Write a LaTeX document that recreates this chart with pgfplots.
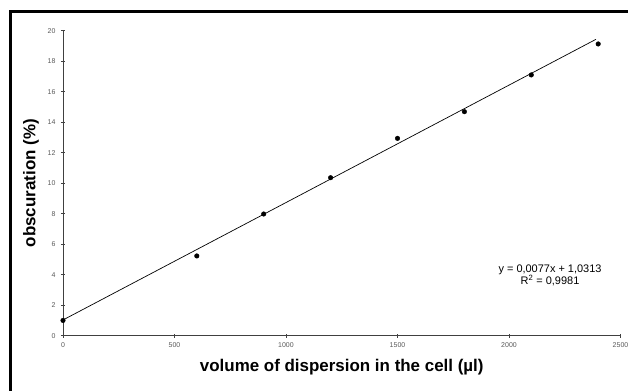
\documentclass[border=0pt]{standalone}
\usepackage{pgfplots}
\pgfplotsset{compat=1.18}
\usepackage{fontspec}
\setmainfont{Liberation Sans}
\begin{document}
\begin{tikzpicture}
\useasboundingbox (0,0) rectangle (628bp,391bp);
\fill[white] (0,0) rectangle (628bp,391bp);
\draw[line width=2.6bp] (10.7bp,-2bp) -- (10.7bp,379.3bp) -- (630bp,379.3bp);
\begin{axis}[
  at={(63bp,55.3bp)}, anchor=south west,
  scale only axis, width=557.5bp, height=305bp,
  xmin=0, xmax=2500, ymin=0, ymax=20,
  axis x line*=bottom, axis y line*=left,
  axis line style={black!75, line width=0.6bp},
  xtick={0,500,...,2500}, ytick={0,2,...,20},
  tick align=center, major tick length=4bp,
  tick style={black!75, line width=0.5bp},
  /pgf/number format/assume math mode=true,
  /pgf/number format/set thousands separator={},
  tick label style={font=\fontsize{7}{8}\selectfont, text=black!65},
  xticklabel style={yshift=-1bp},
  yticklabel style={xshift=-2bp},
  xlabel={volume of dispersion in the cell (µl)},
  ylabel={obscuration (\%)},
  every axis x label/.style={at={(axis description cs:0.5,-0.1016)}, anchor=center, font=\fontsize{17}{20}\selectfont\bfseries},
  every axis y label/.style={at={(axis description cs:-0.0574,0.5)}, rotate=90, anchor=center, font=\fontsize{17}{20}\selectfont\bfseries},
  clip=false,
]
\addplot[black, line width=0.7bp, no marks] coordinates {(0,1.0313) (2390,19.4343)};
\addplot[only marks, mark=*, mark size=2.3bp, black] coordinates {
  (0,1.0) (600,5.23) (900,7.98) (1200,10.36) (1500,12.94) (1800,14.69) (2100,17.1) (2400,19.13)
};
\node[align=center, font=\fontsize{11}{12.7}\selectfont] at (axis cs:2184,3.95)
  {y = 0,0077x + 1,0313\\R\textsuperscript{2} = 0,9981};
\end{axis}
\end{tikzpicture}
\end{document}
